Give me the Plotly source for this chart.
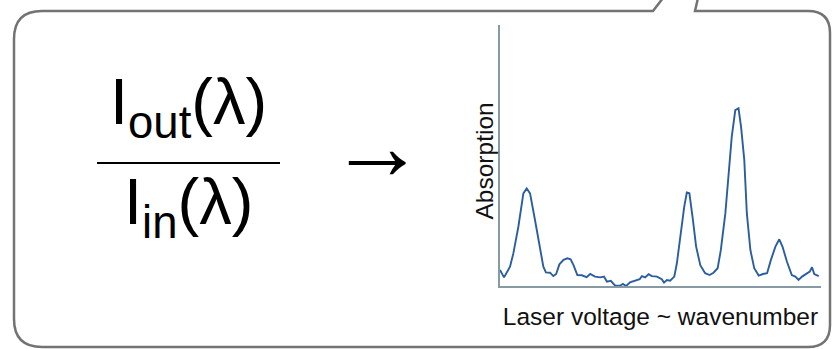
import plotly.graph_objects as go

# Spectrum (arbitrary units, 0-100 on both axes)
voltage = [0, 1.25, 3.12, 4.16, 5.72, 7.28, 8.32, 9.36, 10.9, 12.5, 13.5, 14.3, 15.6, 16.6,
           17.5, 18.5, 19.8, 21.0, 22.0, 22.9, 24.1, 25.5, 27.0, 28.1, 29.6, 31.2, 32.4,
           33.3, 34.5, 35.9, 37.4, 38.3, 39.3, 40.5, 42.1, 43.5, 44.2, 45.2, 46.3, 47.3,
           48.9, 50.4, 51.1, 52.0, 53.0, 54.3, 55.1, 56.1, 57.4, 58.2, 59.0, 60.1, 61.1,
           62.4, 63.9, 65.3, 66.5, 67.8, 68.8, 70.2, 71.2, 72.2, 73.3, 74.3, 75.1, 76.1,
           76.9, 78.0, 79.2, 80.6, 81.9, 83.2, 84.4, 85.8, 87.0, 88.0, 89.4, 90.9, 92.0,
           93.0, 94.1, 95.4, 96.5, 97.2, 97.9, 99.3]
absorption = [6.1, 3.3, 7.4, 12.5, 22.7, 35.5, 37.4, 35.5, 25.3, 13.8, 7.4, 5.2, 5.1, 3.8,
              4.6, 8.3, 10.0, 10.6, 10.2, 8.0, 4.2, 4.1, 3.4, 4.6, 3.6, 3.3, 3.6,
              1.7, 2.0, 0.1, 0.1, 0.8, 0.0, 1.4, 2.0, 2.6, 3.8, 3.3, 4.5, 3.8,
              3.6, 2.6, 1.3, 2.3, 2.0, 3.6, 8.7, 18.9, 30.4, 35.8, 35.5, 25.3, 15.1,
              8.0, 4.9, 4.2, 5.1, 6.8, 13.8, 27.8, 44.4, 57.2, 67.4, 68.1, 61.0, 48.3,
              27.8, 13.8, 6.8, 4.0, 4.6, 4.9, 10.0, 15.1, 17.9, 15.1, 9.3, 4.2, 3.6,
              2.3, 3.6, 4.6, 5.5, 7.2, 4.6, 3.8]

x_title = "Laser voltage ~ wavenumber"
y_title = "Absorption"
numerator = "I<sub>out</sub>(λ)"
denominator = "I<sub>in</sub>(λ)"
arrow_text = "→"

W, H = 832, 349
FONT = "Liberation Sans, Arial, Helvetica, sans-serif"
AXIS_COLOR = "#869aa3"
LINE_COLOR = "#2b5e9f"
BOX_COLOR = "#737373"

fig = go.Figure()
fig.add_trace(go.Scatter(x=voltage, y=absorption, mode="lines",
                         line=dict(color=LINE_COLOR, width=1.9),
                         xaxis="x", yaxis="y", hoverinfo="skip", showlegend=False))
# empty trace to hold the full-page overlay axes
fig.add_trace(go.Scatter(x=[], y=[], xaxis="x2", yaxis="y2", showlegend=False))

# Callout box outline with notch at top right (page pixel coordinates)
L, T, R, B = 14, 11, 830, 347
rl, rr = 28, 22
box_path = (f"M 663,-2 L 653,{T} L {L+rl},{T} Q {L},{T} {L},{T+rl} "
            f"L {L},{B-rl} Q {L},{B} {L+rl},{B} L {R-rr},{B} Q {R},{B} {R},{B-rr} "
            f"L {R},{T+rr} Q {R},{T} {R-rr},{T} L 695,{T} L 698,-2")
fig.add_shape(type="path", path=box_path, xref="x2", yref="y2",
              line=dict(color=BOX_COLOR, width=2.5), layer="below")
# fraction bar
fig.add_shape(type="line", x0=97, x1=280, y0=163, y1=163, xref="x2", yref="y2",
              line=dict(color="black", width=2.2))

fig.add_annotation(text=numerator, x=188, y=106, xref="x2", yref="y2",
                   showarrow=False, xanchor="center", yanchor="middle",
                   font=dict(family=FONT, size=65, color="black"))
fig.add_annotation(text=denominator, x=188, y=206, xref="x2", yref="y2",
                   showarrow=False, xanchor="center", yanchor="middle",
                   font=dict(family=FONT, size=65, color="black"))
fig.add_annotation(text=arrow_text, x=377, y=145, xref="x2", yref="y2",
                   showarrow=False, xanchor="center", yanchor="middle",
                   font=dict(family=FONT, size=96, color="black"))
# y-axis title placed as rotated text beside the axis line
fig.add_annotation(text=y_title, x=484, y=161.5, xref="x2", yref="y2",
                   showarrow=False, xanchor="center", yanchor="middle", textangle=-90,
                   font=dict(family=FONT, size=24.5, color="#111111"))

fig.update_layout(
    width=W, height=H,
    margin=dict(l=0, r=0, t=0, b=0),
    paper_bgcolor="white", plot_bgcolor="rgba(0,0,0,0)",
    showlegend=False,
    xaxis=dict(domain=[500 / W, 821 / W], range=[0, 100], showgrid=False, zeroline=False,
               showticklabels=False, ticks="", showline=True, linecolor=AXIS_COLOR,
               linewidth=1.5, anchor="y",
               title=dict(text=x_title, standoff=21,
                          font=dict(family=FONT, size=24.5, color="#111111"))),
    yaxis=dict(domain=[1 - 286 / H, 1 - 25 / H], range=[0, 100], showgrid=False,
               zeroline=False, showticklabels=False, ticks="", showline=True,
               linecolor=AXIS_COLOR, linewidth=1.5, anchor="x"),
    xaxis2=dict(domain=[0, 1], range=[0, W], visible=False, anchor="y2"),
    yaxis2=dict(domain=[0, 1], range=[H, 0], visible=False, anchor="x2"),
)

fig.write_html("out.html")
